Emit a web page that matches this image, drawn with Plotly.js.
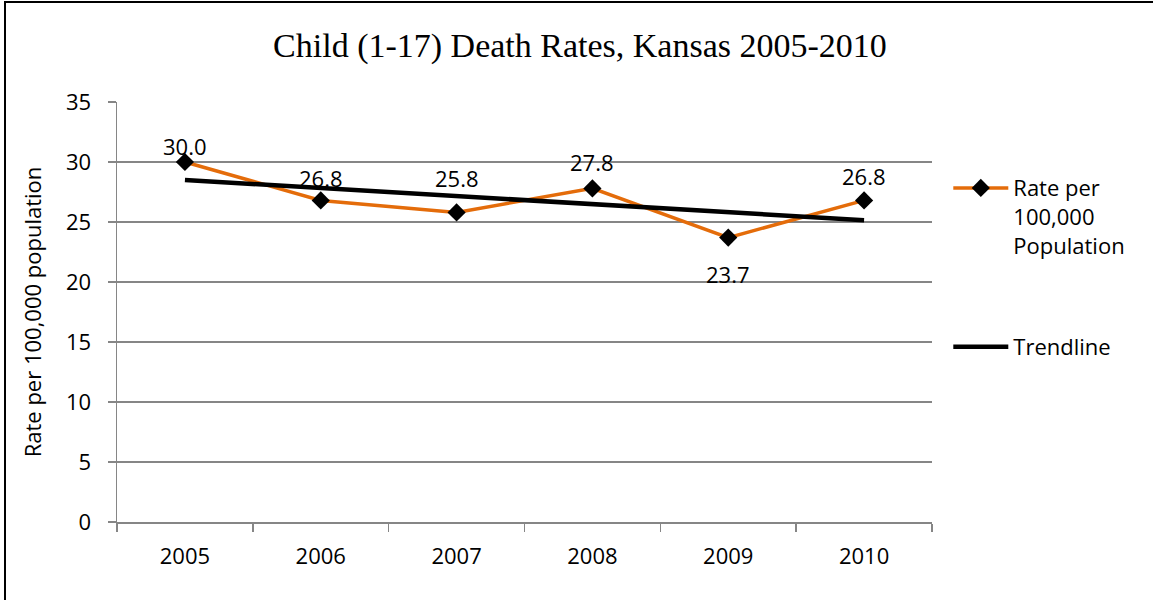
<!DOCTYPE html>
<html>
<head>
<meta charset="utf-8">
<script src="https://cdn.plot.ly/plotly-3.0.1.min.js"></script>
<style>
  html, body { margin: 0; padding: 0; background: #fff; }
  #wrap { position: relative; width: 1153px; height: 600px; }
  #chart { width: 1153px; height: 600px; }
  #frame { position: absolute; left: 4px; top: 1px; right: 0; bottom: 0;
           border-left: 2px solid #000; border-top: 2px solid #000; pointer-events: none; }
</style>
</head>
<body>
<div id="wrap"><div id="chart"></div><div id="frame"></div></div>
<script>
const years = ['2005', '2006', '2007', '2008', '2009', '2010'];
const rates = [30.0, 26.8, 25.8, 27.8, 23.7, 26.8];
const rateLabels = ['30.0', '26.8', '25.8', '27.8', '23.7', '26.8'];
const trendYears = ['2005', '2010'];
const trendValues = [28.5, 25.15];

const labelShift = [16, 22, 34, 26, -36, 24];
const font = '"Open Sans", sans-serif';
const fs = 22;

const traces = [
  {
    x: years, y: rates, type: 'scatter', mode: 'lines+markers',
    name: 'Rate per<br>100,000<br>Population', legendgroup: 'a',
    line: { color: '#E46C0A', width: 3.5 },
    marker: { symbol: 'diamond', size: 14, color: '#000' },
    hoverinfo: 'skip'
  },
  {
    x: trendYears, y: trendValues, type: 'scatter', mode: 'lines',
    name: 'Trendline', legendgroup: 'b',
    line: { color: '#000', width: 4.5 },
    hoverinfo: 'skip'
  }
];

// category index positions (avoid numeric-looking category names being read as indices)
const annotations = years.map((yr, i) => ({
  x: i, y: rates[i], xref: 'x', yref: 'y', text: rateLabels[i],
  showarrow: false, yshift: labelShift[i],
  font: { family: font, size: fs, color: '#000' }
}));

const layout = {
  width: 1153, height: 600,
  margin: { l: 117, r: 221, t: 102, b: 78 },
  paper_bgcolor: '#fff', plot_bgcolor: '#fff',
  font: { family: font, size: fs, color: '#000' },
  title: {
    text: 'Child (1-17) Death Rates, Kansas 2005-2010',
    font: { family: 'Liberation Serif, Times New Roman, serif', size: 34, color: '#000' },
    x: 0.503, xref: 'container', xanchor: 'center',
    y: 0.925, yref: 'container', yanchor: 'middle'
  },
  xaxis: {
    type: 'category', categoryorder: 'array', categoryarray: years,
    range: [-0.5, years.length - 0.5],
    tickson: 'boundaries', ticks: 'outside', ticklen: 8,
    tickcolor: '#868686', tickwidth: 1.5,
    showline: true, linecolor: '#868686', linewidth: 1.5,
    showgrid: false, zeroline: false, tickangle: 0,
    tickfont: { family: font, size: fs }, ticklabelstandoff: 14, fixedrange: true
  },
  yaxis: {
    range: [0, 35], dtick: 5, tick0: 0, ticks: 'outside', ticklen: 8,
    tickcolor: '#868686', tickwidth: 1.5,
    showline: true, linecolor: '#868686', linewidth: 1.5,
    showgrid: true, gridcolor: '#868686', gridwidth: 1.5, zeroline: false,
    tickfont: { family: font, size: fs }, ticklabelstandoff: 12,
    title: { text: 'Rate per 100,000 population', font: { family: font, size: fs }, standoff: 18 },
    fixedrange: true
  },
  showlegend: true,
  legend: {
    x: 1.02, xanchor: 'left', y: 0.845, yanchor: 'top',
    traceorder: 'grouped', tracegroupgap: 70, valign: 'top',
    font: { family: font, size: fs }, itemwidth: 55,
    bgcolor: 'rgba(0,0,0,0)'
  },
  annotations: annotations
};

Plotly.newPlot('chart', traces, layout, { displayModeBar: false, staticPlot: true });
</script>
</body>
</html>
